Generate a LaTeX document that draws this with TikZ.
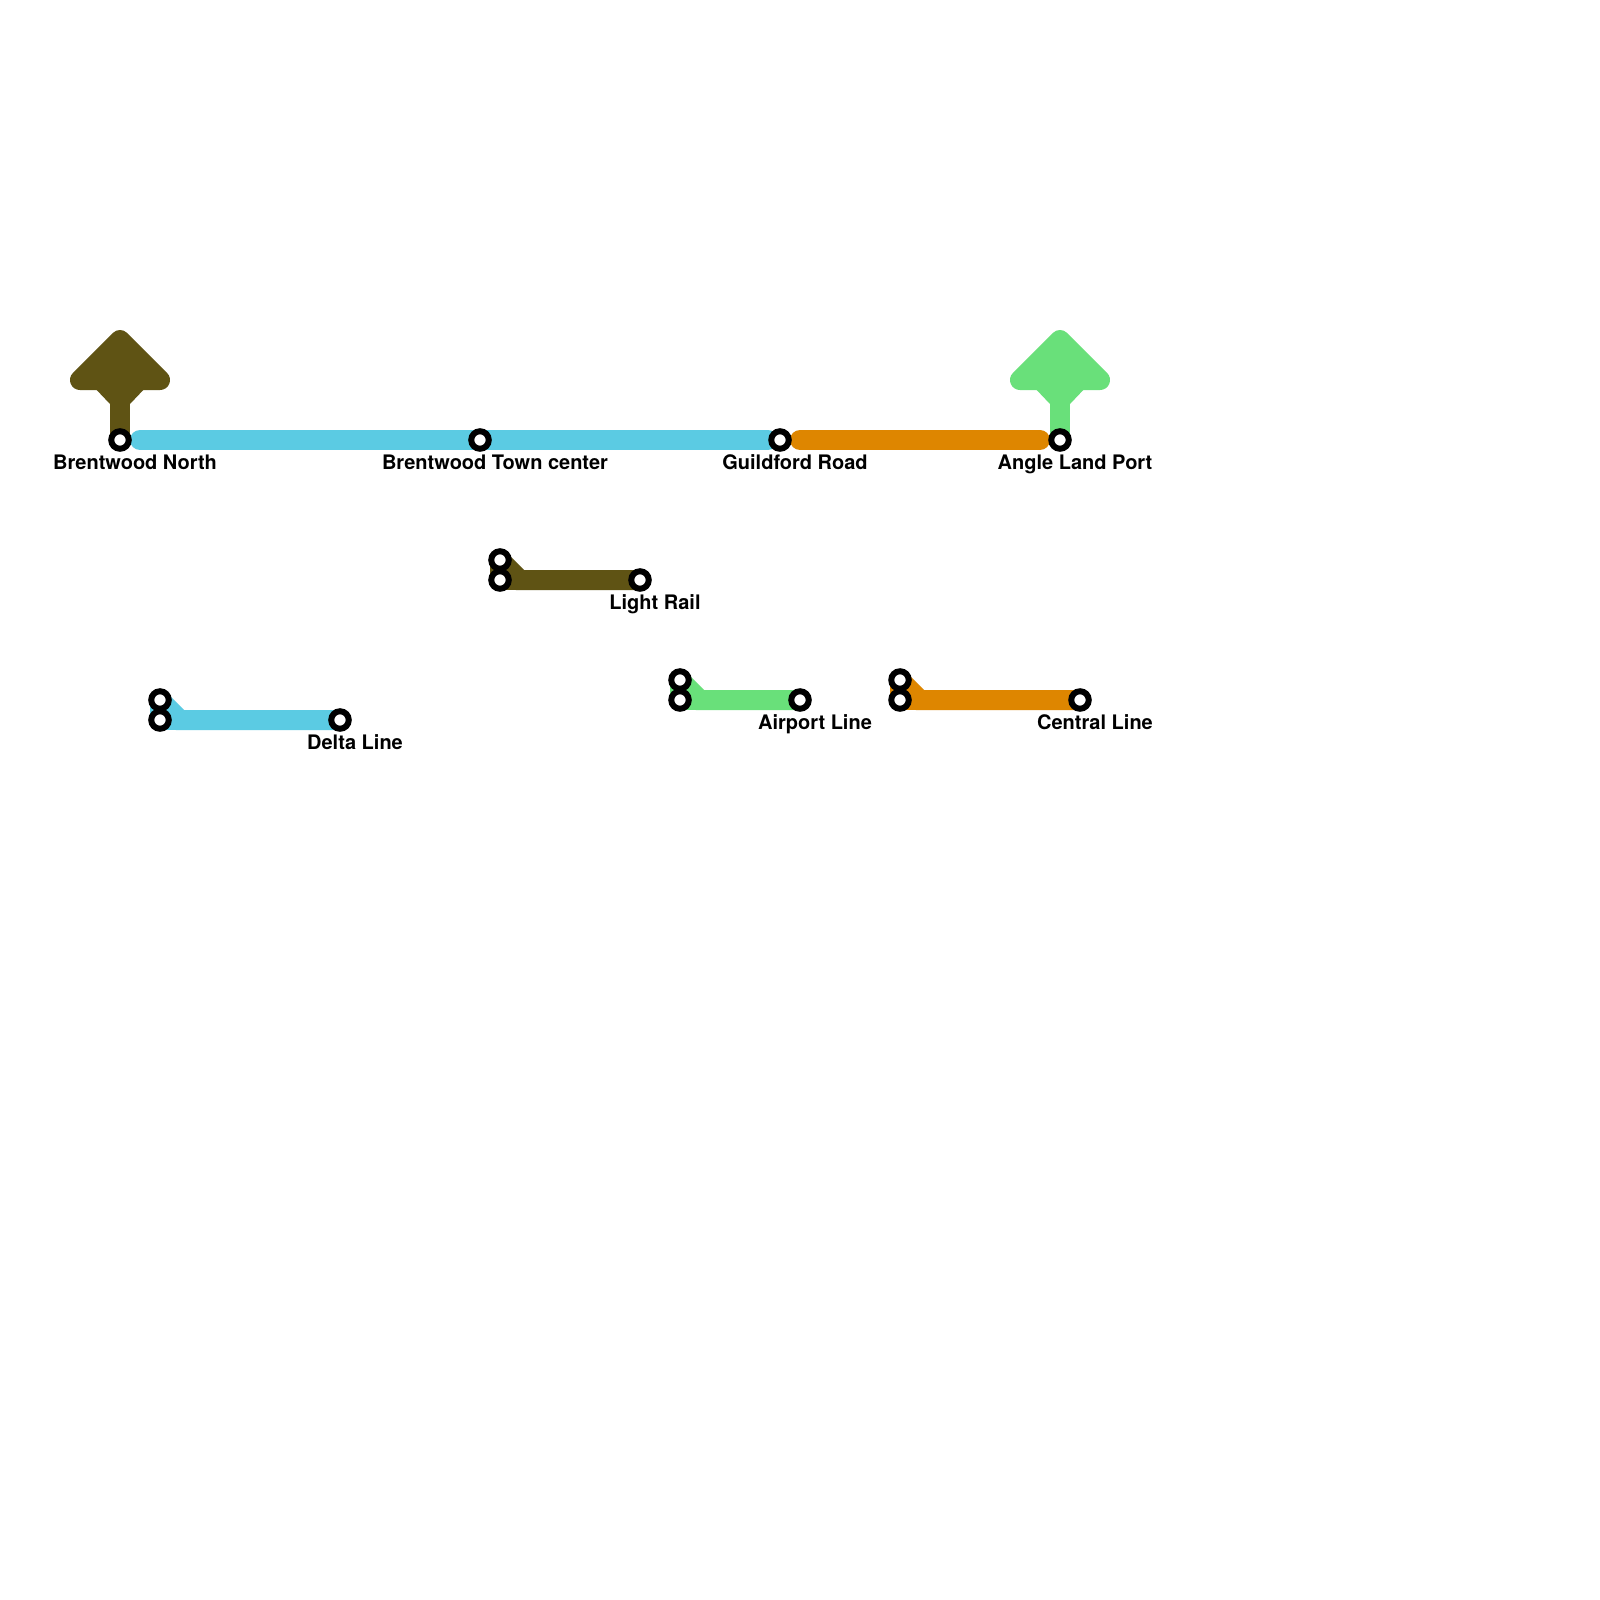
\documentclass[tikz,border=0pt]{standalone}
\usepackage{fontspec}
\setmainfont{TeX Gyre Heros}
\usetikzlibrary{backgrounds}
\definecolor{lineBrown}{HTML}{5F5314}
\definecolor{lineBlue}{HTML}{5BCBE3}
\definecolor{lineGreen}{HTML}{69E07A}
\definecolor{lineOrange}{HTML}{DE8600}
\tikzset{
  x=1pt,y=-1pt,
  stop/.style={circle,draw=black,fill=white,line width=6pt,inner sep=0pt,minimum size=17.5pt},
  lbl/.style={font=\bfseries\fontsize{20}{24}\selectfont,text=black,inner sep=0pt,anchor=base},
  track/.style={line width=20pt,line cap=round,line join=round,shorten <=20pt,shorten >=20pt},
  legend/.style={line width=20pt,line cap=butt,line join=miter},
  term/.style={line width=20pt,line cap=butt,line join=miter},
  head/.style={line width=20pt,line join=round,draw=#1,fill=#1}
}
\begin{document}
\begin{tikzpicture}
\useasboundingbox (0,0) rectangle (1600,1600);
% stations
\node[stop] (bn) at (120,440) {};
\node[stop] (bt) at (480,440) {};
\node[stop] (gr) at (780,440) {};
\node[stop] (al) at (1060,440) {};
\node[stop] (lra) at (500,560) {};
\node[stop] (lrb) at (500,580) {};
\node[stop] (lrc) at (640,580) {};
\node[stop] (dla) at (160,700) {};
\node[stop] (dlb) at (160,720) {};
\node[stop] (dlc) at (340,720) {};
\node[stop] (apa) at (680,680) {};
\node[stop] (apb) at (680,700) {};
\node[stop] (apc) at (800,700) {};
\node[stop] (cla) at (900,680) {};
\node[stop] (clb) at (900,700) {};
\node[stop] (clc) at (1080,700) {};
% labels
\node[lbl] (tbn) at (135,469.5) {Brentwood North};
\node[lbl] (tbt) at (495,469.5) {Brentwood Town center};
\node[lbl] (tgr) at (795,469.5) {Guildford Road};
\node[lbl] (tal) at (1075,469.5) {Angle Land Port};
\node[lbl] (tlr) at (655,609.5) {Light Rail};
\node[lbl] (tdl) at (355,749.5) {Delta Line};
\node[lbl] (tap) at (815,729.5) {Airport Line};
\node[lbl] (tcl) at (1095,729.5) {Central Line};
% bends
\coordinate (lrk) at (520,580);
\coordinate (dlk) at (180,720);
\coordinate (apk) at (700,700);
\coordinate (clk) at (920,700);
\coordinate (ba) at (120,340);
\coordinate (bl) at (80,380);
\coordinate (br) at (160,380);
\coordinate (bs) at (120,400);
\coordinate (ga) at (1060,340);
\coordinate (gl) at (1020,380);
\coordinate (gr2) at (1100,380);
\coordinate (gs) at (1060,400);
\coordinate (bn1) at (96.7,390);
\coordinate (bn2) at (143.3,390);
\coordinate (gn1) at (1036.7,390);
\coordinate (gn2) at (1083.3,390);
\begin{scope}[on background layer]
\fill[white] (0,0) rectangle (1600,1600);
% main line
\draw[track,lineBlue,shorten >=12pt] (bn.center) -- (bt.center) -- (gr.center);
\draw[track,lineOrange] (gr.center) -- (al.center);
% terminal arrows
\draw[term,lineBrown] (bn.center) -- (bs);
\fill[lineBrown] (bn1) -- (bn2) -- (130,404) -- (110,404) -- cycle;
\draw[head=lineBrown] (ba) -- (br) -- (bl) -- cycle;
\draw[term,lineGreen] (al.center) -- (gs);
\fill[lineGreen] (gn1) -- (gn2) -- (1070,404) -- (1050,404) -- cycle;
\draw[head=lineGreen] (ga) -- (gr2) -- (gl) -- cycle;
% legend
\draw[legend,lineBrown] (lra.center) -- (lrb.center);
\draw[legend,lineBrown] (lra.center) -- (lrk) -- (lrc.center);
\draw[legend,lineBrown] (lrb.center) -- (lrc.center);
\draw[legend,lineBlue] (dla.center) -- (dlb.center);
\draw[legend,lineBlue] (dla.center) -- (dlk) -- (dlc.center);
\draw[legend,lineBlue] (dlb.center) -- (dlc.center);
\draw[legend,lineGreen] (apa.center) -- (apb.center);
\draw[legend,lineGreen] (apa.center) -- (apk) -- (apc.center);
\draw[legend,lineGreen] (apb.center) -- (apc.center);
\draw[legend,lineOrange] (cla.center) -- (clb.center);
\draw[legend,lineOrange] (cla.center) -- (clk) -- (clc.center);
\draw[legend,lineOrange] (clb.center) -- (clc.center);
\end{scope}
\end{tikzpicture}
\end{document}
